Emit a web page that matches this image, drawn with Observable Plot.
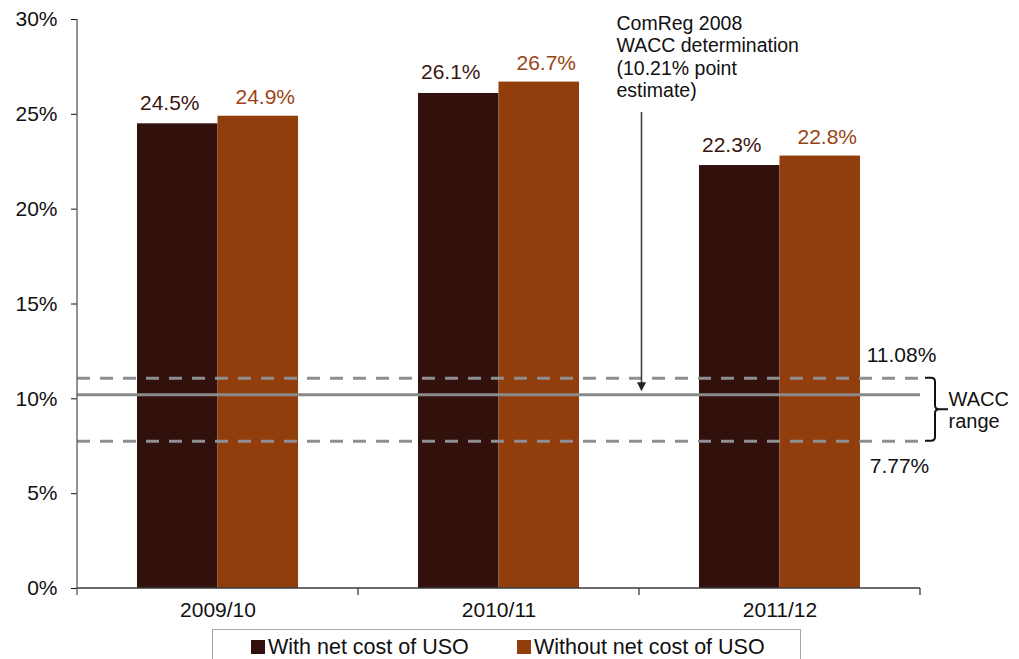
<!DOCTYPE html>
<html>
<head>
<meta charset="utf-8">
<script src="https://cdn.jsdelivr.net/npm/d3@7"></script>
<script src="https://cdn.jsdelivr.net/npm/@observablehq/plot@0.6"></script>
<style>
  html, body { margin: 0; padding: 0; background: #fff; }
  body { font-family: "Liberation Sans", Arial, sans-serif; width: 1019px; height: 659px; overflow: hidden; }
  #legend {
    position: absolute; left: 212px; top: 629px; width: 589px; height: 40px;
    border: 1.5px solid #a6a6a6; box-sizing: border-box; font-size: 21.5px; color: #111;
  }
  .item { position: absolute; top: 5px; display: flex; align-items: center; line-height: 24px; }
  .sw { width: 14px; height: 14px; margin-right: 3px; display: inline-block; }
</style>
</head>
<body>
<div id="chart"></div>
<div id="legend"></div>
<script>
// ---- data ----
const years = ["2009/10", "2010/11", "2011/12"];
const seriesNames = ["With net cost of USO", "Without net cost of USO"];
const withUSO = [24.5, 26.1, 22.3];
const withoutUSO = [24.9, 26.7, 22.8];
const waccHigh = 11.08;
const waccPoint = 10.21;
const waccLow = 7.77;
const yTicks = [0, 5, 10, 15, 20, 25, 30];
const annotationText = "ComReg 2008\nWACC determination\n(10.21% point\nestimate)";

// ---- styles ----
const colors = ["#32100c", "#913e0c"];
const labelColors = ["#3a1610", "#9a4414"];
const font = "'Liberation Sans', Arial, sans-serif";

const rowsWith = years.map((y, i) => ({year: y, value: withUSO[i]}));
const rowsWithout = years.map((y, i) => ({year: y, value: withoutUSO[i]}));

const W = 1019, H = 625, ML = 77, MR = 99, MT = 19, MB = 37;
const band = (W - ML - MR) / years.length;
const outer = band * 0.2135;
const half = band / 2;
const barCenter = (half - outer) / 2;

// custom mark: axis lines, boundary ticks, arrow, brace (positions from Plot scales)
function extras(index, scales, values, dims) {
  const x = scales.x, y = scales.y;
  const bw = x.bandwidth();
  const left = x(years[0]);
  const right = x(years[years.length - 1]) + bw;
  const y0 = y(0);
  const g = d3.create("svg:g");
  g.append("line").attr("x1", left).attr("x2", left).attr("y1", y(30)).attr("y2", y0 + 7)
    .attr("stroke", "#5a5a5a").attr("stroke-width", 1.3);
  g.append("line").attr("x1", left).attr("x2", right).attr("y1", y0).attr("y2", y0)
    .attr("stroke", "#3a3a3a").attr("stroke-width", 1.3);
  years.forEach((yr) => {
    const xb = x(yr) + bw;
    g.append("line").attr("x1", xb).attr("x2", xb).attr("y1", y0).attr("y2", y0 + 7)
      .attr("stroke", "#3a3a3a").attr("stroke-width", 1.3);
  });
  const ax = x(years[2]) + 2.5;
  const tip = y(waccPoint) - 3;
  g.append("line").attr("x1", ax).attr("x2", ax).attr("y1", 112).attr("y2", tip - 6)
    .attr("stroke", "#444").attr("stroke-width", 1.6);
  g.append("path").attr("d", `M${ax - 4.5},${tip - 9}L${ax + 4.5},${tip - 9}L${ax},${tip}Z`).attr("fill", "#222");
  const bx = right + 15, yt = y(waccHigh), yb = y(waccLow), ym = (yt + yb) / 2;
  const r = 4;
  const d = `M${bx - 10},${yt} L${bx - r},${yt} Q${bx},${yt} ${bx},${yt + r} L${bx},${ym - r} Q${bx},${ym} ${bx + r},${ym} L${bx + 13},${ym}` +
            ` M${bx + r},${ym} Q${bx},${ym} ${bx},${ym + r} L${bx},${yb - r} Q${bx},${yb} ${bx - r},${yb} L${bx - 10},${yb}`;
  g.append("path").attr("d", d).attr("fill", "none").attr("stroke", "#111").attr("stroke-width", 2);
  return g.node();
}

const chart = Plot.plot({
  width: W, height: H,
  marginLeft: ML, marginRight: MR, marginTop: MT, marginBottom: MB,
  style: {fontFamily: font, fontSize: "21px", color: "#111", background: "white", overflow: "visible"},
  x: {type: "band", domain: years, padding: 0, tickSize: 0, tickPadding: 14, label: null},
  y: {domain: [0, 30], ticks: yTicks, tickFormat: d => d + "%", tickSize: 6, tickPadding: 14, label: null},
  marks: [
    Plot.barY(rowsWith, {x: "year", y: "value", fill: colors[0], insetLeft: outer, insetRight: half}),
    Plot.barY(rowsWithout, {x: "year", y: "value", fill: colors[1], insetLeft: half, insetRight: outer}),
    Plot.ruleY([waccHigh, waccLow], {stroke: "#8e8f92", strokeWidth: 3, strokeDasharray: "13,10"}),
    Plot.ruleY([waccPoint], {stroke: "#8a8a8a", strokeWidth: 3}),
    Plot.text(rowsWith, {x: "year", y: "value", text: d => d.value.toFixed(1) + "%", dx: -barCenter - 8, dy: -14, lineAnchor: "bottom", fill: labelColors[0], fontSize: 21}),
    Plot.text(rowsWithout, {x: "year", y: "value", text: d => d.value.toFixed(1) + "%", dx: barCenter + 7, dy: -12.5, lineAnchor: "bottom", fill: labelColors[1], fontSize: 21}),
    Plot.text([waccHigh], {y: d => d, frameAnchor: "right", textAnchor: "middle", text: d => d.toFixed(2) + "%", dx: -19, dy: -23, fill: "#111", fontSize: 21}),
    Plot.text([waccLow], {y: d => d, frameAnchor: "right", textAnchor: "middle", text: d => d.toFixed(2) + "%", dx: -21, dy: 25, fill: "#111", fontSize: 21}),
    Plot.text([(waccHigh + waccLow) / 2], {y: d => d, frameAnchor: "right", text: () => "WACC\nrange", textAnchor: "start", dx: 28, lineHeight: 1.12, fill: "#111", fontSize: 20}),
    Plot.text([30], {x: () => years[2], y: d => d, text: () => annotationText, textAnchor: "start", lineAnchor: "top", dx: -(half + 23), dy: -6, lineHeight: 1.16, fill: "#111", fontSize: 19.5}),
    extras
  ]
});
document.getElementById("chart").appendChild(chart);

// legend
const legend = document.getElementById("legend");
const lefts = [38, 304];
seriesNames.forEach((name, i) => {
  const it = document.createElement("div");
  it.className = "item";
  it.style.left = lefts[i] + "px";
  it.innerHTML = `<span class="sw" style="background:${colors[i]}"></span><span>${name}</span>`;
  legend.appendChild(it);
});
</script>
</body>
</html>
